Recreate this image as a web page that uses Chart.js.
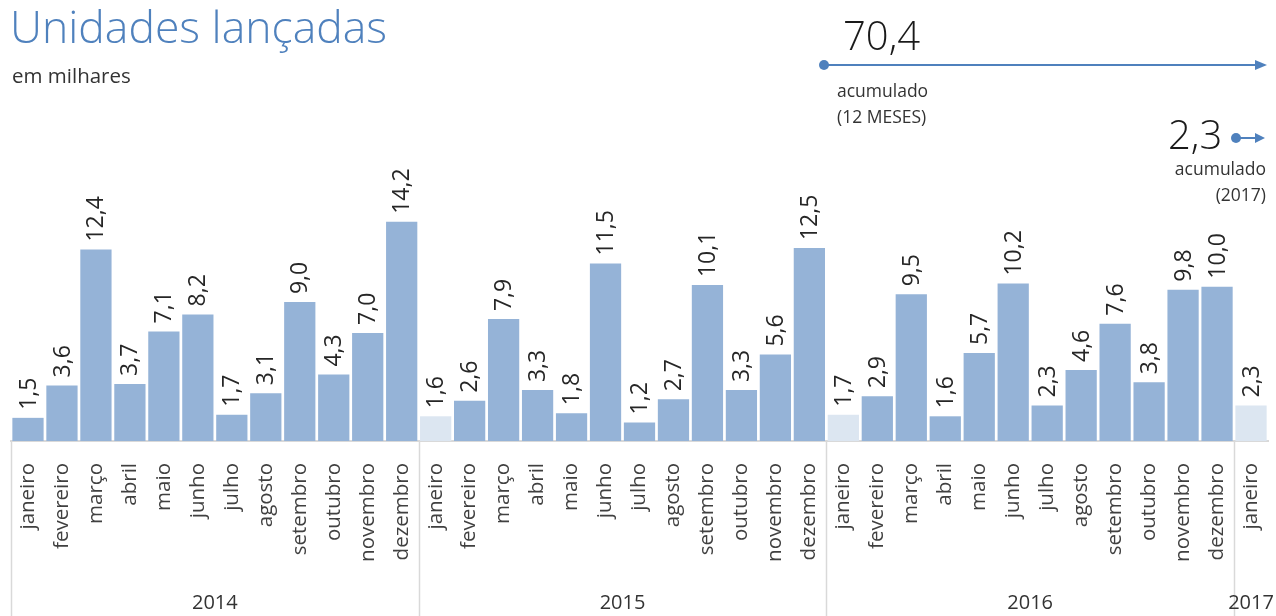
<!DOCTYPE html>
<html>
<head>
<meta charset="utf-8">
<script src="https://cdn.jsdelivr.net/npm/chart.js@4.4.0/dist/chart.umd.min.js"></script>
<style>
  body { margin: 0; background: #fff; font-family: "Open Sans", sans-serif; }
  #wrap { position: relative; width: 1276px; height: 616px; overflow: hidden; }
  #chart-box { position: absolute; left: 0; top: 0; width: 1276px; height: 616px; }
  .txt { position: absolute; white-space: nowrap; }
  #title { left: 10px; top: -5px; font-size: 44.5px; font-weight: 300; color: #4f81bd; letter-spacing: 0px; }
  #sub { left: 12px; top: 61px; font-size: 20.5px; color: #333; }
  .big { font-size: 40px; font-weight: 300; color: #1a1a1a; }
  .small { font-size: 17.5px; color: #333; line-height: 26px; }
  svg { position: absolute; left: 0; top: 0; }
</style>
</head>
<body>
<div id="wrap">
  <div id="chart-box"><canvas id="chart"></canvas></div>
  <div id="title" class="txt">Unidades lançadas</div>
  <div id="sub" class="txt">em milhares</div>
  <div class="txt big" style="left:843px; top:7px;">70,4</div>
  <div class="txt small" style="left:837px; top:77px;">acumulado<br>(12 MESES)</div>
  <div class="txt big" style="left:1168px; top:106px;">2,3</div>
  <div class="txt small" style="right:10px; top:155px; text-align:right;">acumulado<br>(2017)</div>
  <svg width="1276" height="616">
    <line x1="824" y1="65" x2="1256" y2="65" stroke="#4f81bd" stroke-width="2"/>
    <circle cx="824" cy="65" r="5" fill="#4f81bd"/>
    <polygon points="1255,60 1267,65 1255,70" fill="#4f81bd"/>
    <line x1="1236" y1="138" x2="1256" y2="138" stroke="#4f81bd" stroke-width="2"/>
    <circle cx="1236" cy="138" r="5" fill="#4f81bd"/>
    <polygon points="1255,133 1265,138 1255,143" fill="#4f81bd"/>
  </svg>
</div>
<script>
const years = ['2014', '2015', '2016', '2017'];
const months = ['janeiro', 'fevereiro', 'março', 'abril', 'maio', 'junho',
  'julho', 'agosto', 'setembro', 'outubro', 'novembro', 'dezembro'];
const v2014 = [1.5, 3.6, 12.4, 3.7, 7.1, 8.2, 1.7, 3.1, 9.0, 4.3, 7.0, 14.2];
const v2015 = [1.6, 2.6, 7.9, 3.3, 1.8, 11.5, 1.2, 2.7, 10.1, 3.3, 5.6, 12.5];
const v2016 = [1.7, 2.9, 9.5, 1.6, 5.7, 10.2, 2.3, 4.6, 7.6, 3.8, 9.8, 10.0];
const v2017 = [2.3];

const yearValues = [v2014, v2015, v2016, v2017];
const labels = [];
const values = [];
const colors = [];
const groups = []; // [startIndex, count] per year
yearValues.forEach((arr, y) => {
  groups.push([values.length, arr.length]);
  arr.forEach((v, m) => {
    labels.push(months[m]);
    values.push(v);
    colors.push(m === 0 && y > 0 ? '#dce6f1' : '#95b3d7');
  });
});

const fmt = v => v.toFixed(1).replace('.', ',');

const valueLabels = {
  id: 'valueLabels',
  afterDatasetsDraw(chart) {
    const ctx = chart.ctx;
    const meta = chart.getDatasetMeta(0);
    ctx.save();
    ctx.font = '23px "Open Sans"';
    ctx.fillStyle = '#262626';
    ctx.textAlign = 'left';
    ctx.textBaseline = 'middle';
    meta.data.forEach((bar, i) => {
      ctx.save();
      ctx.translate(bar.x + 1, bar.y - 8);
      ctx.rotate(-Math.PI / 2);
      ctx.fillText(fmt(values[i]), 0, 0);
      ctx.restore();
    });
    ctx.restore();
  }
};

const yearAxis = {
  id: 'yearAxis',
  afterDraw(chart) {
    const ctx = chart.ctx;
    const x = chart.scales.x;
    const half = (x.getPixelForValue(1) - x.getPixelForValue(0)) / 2;
    const top = chart.chartArea.bottom;
    const bottom = chart.height;
    ctx.save();
    ctx.strokeStyle = '#d9d9d9';
    ctx.lineWidth = 1.5;
    ctx.font = '20px "Open Sans"';
    ctx.fillStyle = '#333';
    ctx.textAlign = 'center';
    ctx.textBaseline = 'middle';
    groups.forEach(([start, count], g) => {
      const left = x.getPixelForValue(start) - half;
      const right = x.getPixelForValue(start + count - 1) + half;
      ctx.beginPath();
      ctx.moveTo(Math.round(left) + 0.5, top);
      ctx.lineTo(Math.round(left) + 0.5, bottom);
      ctx.stroke();
      ctx.fillText(years[g], (left + right) / 2, 603);
    });
    ctx.restore();
  }
};

new Chart(document.getElementById('chart'), {
  type: 'bar',
  data: {
    labels: labels,
    datasets: [{
      data: values,
      backgroundColor: colors,
      borderWidth: 0,
      barPercentage: 0.92,
      categoryPercentage: 1
    }]
  },
  options: {
    responsive: true,
    maintainAspectRatio: false,
    animation: false,
    layout: { padding: { left: 11, right: 8, top: 194, bottom: 0 } },
    plugins: { legend: { display: false }, tooltip: { enabled: false } },
    scales: {
      x: {
        grid: { display: false, drawTicks: false },
        border: { display: true, color: '#d9d9d9', width: 2 },
        afterFit(scale) {
          scale.height = 175;
          scale.paddingLeft = 0;
          scale.paddingRight = 0;
        },
        ticks: {
          autoSkip: false,
          minRotation: 90,
          maxRotation: 90,
          padding: 22,
          color: '#404040',
          font: { family: 'Open Sans', size: 20.5 }
        }
      },
      y: {
        display: false,
        min: 0,
        max: 16
      }
    }
  },
  plugins: [valueLabels, yearAxis]
});
</script>
</body>
</html>
